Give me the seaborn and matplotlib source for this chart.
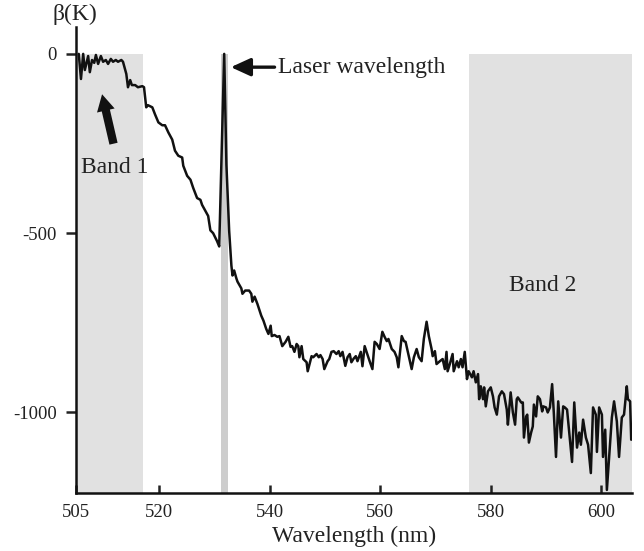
import numpy as np
import pandas as pd
import matplotlib
matplotlib.use("Agg")
import matplotlib.pyplot as plt
import seaborn as sns

# ---- data ----
wavelength = [
    505.5, 505.9, 506.3, 506.6, 507.2, 507.5, 507.9, 508.3, 508.6, 509.0,
    509.5, 509.9, 510.4, 510.8, 511.3, 511.7, 512.2, 512.6, 513.2, 513.5,
    514.1, 514.4, 514.8, 515.1, 515.7, 516.2, 517.0, 517.3, 517.7, 518.0,
    518.8, 519.3, 519.9, 520.6, 521.1, 521.7, 522.4, 522.9, 523.5, 524.2,
    524.4, 525.1, 525.7, 526.2, 526.9, 527.5, 527.8, 528.4, 528.9, 529.3,
    529.8, 530.5, 530.9, 531.8, 532.2, 532.7, 533.1, 533.3, 533.6, 534.0,
    534.2, 534.9, 535.1, 535.6, 536.3, 536.7, 536.9, 537.3, 537.8, 538.5,
    538.9, 539.4, 539.8, 540.2, 540.4, 540.9, 541.4, 541.8, 542.3, 542.9,
    543.4, 543.8, 544.1, 544.5, 544.9, 545.2, 545.4, 545.8, 546.1, 546.7,
    546.9, 547.6, 547.9, 548.5, 548.9, 549.2, 549.6, 549.9, 550.5, 550.8,
    551.2, 551.6, 552.1, 552.5, 552.8, 553.2, 553.7, 554.1, 554.5, 554.8,
    555.2, 555.6, 555.9, 556.5, 556.8, 557.2, 557.5, 558.1, 558.6, 559.0,
    559.4, 559.9, 560.4, 560.8, 561.2, 561.5, 562.1, 562.6, 563.0, 563.3,
    563.9, 564.3, 564.6, 565.0, 565.7, 566.1, 566.6, 567.0, 567.5, 567.9,
    568.4, 568.8, 569.3, 569.5, 569.9, 570.2, 570.8, 571.3, 571.7, 572.0,
    572.2, 572.6, 573.1, 573.3, 573.9, 574.2, 574.6, 574.9, 575.3, 575.7,
    576.0, 576.6, 576.9, 577.3, 577.7, 577.9, 578.2, 578.6, 578.8, 579.1,
    579.5, 580.0, 580.4, 580.7, 581.1, 581.5, 582.0, 582.4, 582.9, 583.1,
    583.6, 584.0, 584.4, 584.7, 584.9, 585.5, 585.8, 586.0, 586.4, 586.6,
    586.9, 587.3, 587.6, 587.8, 588.2, 588.5, 588.9, 589.3, 589.5, 590.0,
    590.3, 590.7, 591.1, 591.4, 591.8, 592.2, 592.7, 593.1, 593.4, 593.8,
    594.2, 594.7, 595.1, 595.6, 596.0, 596.3, 596.7, 597.2, 597.6, 598.1,
    598.5, 599.0, 599.2, 599.6, 600.1, 600.3, 600.7, 601.0, 601.4, 601.9,
    602.3, 602.8, 603.2, 603.7, 604.1, 604.6, 604.8, 605.2, 605.4,
]
beta = [
    0, -70, 0, -45, -6, -51, -17, -25, -3, -28,
    -6, -22, -17, -28, -14, -22, -17, -22, -17, -22,
    -56, -93, -73, -87, -87, -93, -90, -93, -149, -143,
    -149, -169, -191, -199, -199, -219, -239, -270, -284, -289,
    -312, -340, -351, -374, -402, -407, -421, -438, -452, -492,
    -500, -522, -537, 0, -309, -494, -590, -618, -604, -626,
    -635, -654, -669, -660, -660, -669, -691, -677, -697, -730,
    -744, -767, -781, -758, -787, -784, -789, -787, -815, -803,
    -789, -817, -815, -831, -809, -815, -846, -815, -851, -860,
    -885, -843, -846, -837, -846, -840, -851, -879, -857, -851,
    -831, -829, -837, -829, -843, -831, -870, -846, -837, -860,
    -850, -843, -857, -831, -871, -815, -829, -857, -879, -803,
    -809, -823, -775, -789, -801, -795, -823, -831, -846, -874,
    -787, -801, -803, -831, -879, -846, -823, -846, -857, -795,
    -747, -787, -823, -843, -829, -865, -857, -851, -879, -831,
    -885, -865, -837, -885, -857, -874, -851, -874, -831, -907,
    -885, -902, -885, -916, -893, -963, -927, -963, -930, -983,
    -941, -930, -955, -986, -1006, -955, -941, -949, -992, -1034,
    -944, -1000, -1034, -963, -958, -972, -972, -1070, -1011, -1006,
    -1084, -1056, -1039, -978, -1011, -955, -963, -997, -983, -986,
    -1000, -986, -921, -1000, -1124, -969, -1070, -983, -986, -992,
    -1056, -1138, -972, -1098, -1056, -1090, -1020, -1070, -1090, -1169,
    -986, -1006, -1110, -986, -1006, -1124, -1048, -1216, -1126, -1014,
    -969, -1025, -1124, -1014, -1006, -927, -963, -969, -1076,
]
x_ticks = [505, 520, 540, 560, 580, 600]
y_ticks = [0, -500, -1000]
y_tick_labels = ["0", "-500", "-1000"]
band1 = (505.0, 517.1)
laser_band = (531.3, 532.4)
band2 = (576.0, 605.5)

df = pd.DataFrame({"wavelength": wavelength, "beta": beta})

sns.set_style("ticks")
plt.rcParams["font.family"] = ["Liberation Serif", "DejaVu Serif"]
plt.rcParams["axes.unicode_minus"] = False

fig = plt.figure(figsize=(6.44, 5.51), dpi=100)
ax = fig.add_axes([0.118, 0.105, 0.863, 0.846])

ymin, ymax = -1225, 75
for (lo, hi), col in [(band1, "#e1e1e1"), (band2, "#e1e1e1"), (laser_band, "#cdcdcd")]:
    ax.fill_between([lo, hi], [ymin, ymin], [0, 0], color=col, lw=0, zorder=0)

sns.lineplot(data=df, x="wavelength", y="beta", ax=ax, color="#111111",
             linewidth=1.8, estimator=None, sort=False, zorder=3)

ax.set_xlim(505, 605.5)
ax.set_ylim(ymin, ymax)
ax.set_xticks(x_ticks)
ax.set_xticklabels([str(v) for v in x_ticks])
ax.set_yticks(y_ticks)
ax.set_yticklabels(y_tick_labels)
ax.tick_params(axis="x", direction="in", length=6, width=1.8, labelsize=13.5,
               pad=8, colors="#222222")
ax.tick_params(axis="y", direction="out", length=7, width=1.8, labelsize=13.5,
               pad=7, colors="#222222")
for s in ["top", "right"]:
    ax.spines[s].set_visible(False)
for s in ["left", "bottom"]:
    ax.spines[s].set_linewidth(1.8)
    ax.spines[s].set_color("#111111")

ax.set_xlabel("Wavelength (nm)", fontsize=17, color="#222222", labelpad=3)
ax.set_ylabel("")
ax.text(-0.002, 1.028, "β(K)", transform=ax.transAxes, fontsize=17,
        ha="center", va="center", color="#222222")

ax.text(589.4, -646, "Band 2", fontsize=17, ha="center", va="center", color="#222222")
ax.text(512.0, -317, "Band 1", fontsize=17, ha="center", va="center", color="#222222")
ax.annotate("", xy=(509.6, -105), xytext=(511.9, -258),
            arrowprops=dict(arrowstyle="simple,head_length=1.2,head_width=1.3,tail_width=0.6",
                            color="#111111", lw=0, mutation_scale=10))
ax.annotate("Laser wavelength", xy=(533.0, -37), xytext=(541.5, -37),
            fontsize=17, ha="left", va="center", color="#222222",
            arrowprops=dict(arrowstyle="-|>,head_length=0.7,head_width=0.32",
                            color="#111111", lw=2.4, shrinkA=0, shrinkB=0))

fig.savefig("out.png", dpi=100)
